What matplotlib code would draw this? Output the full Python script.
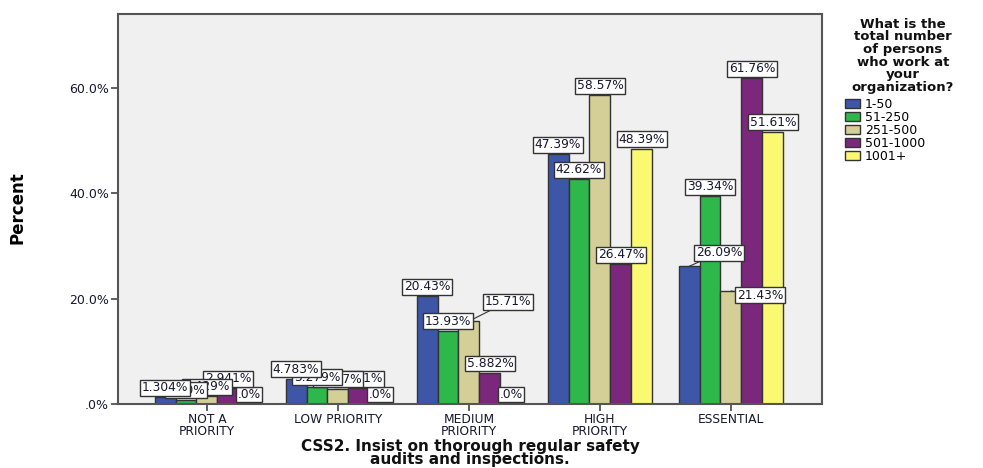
import matplotlib
matplotlib.use('Agg')
import matplotlib.pyplot as plt
from matplotlib.patches import Patch

# Data
categories = ['NOT A\nPRIORITY', 'LOW PRIORITY', 'MEDIUM\nPRIORITY', 'HIGH\nPRIORITY', 'ESSENTIAL']
groups = ['1-50', '51-250', '251-500', '501-1000', '1001+']
pct_1_50 = [1.304, 4.783, 20.43, 47.39, 26.09]
pct_51_250 = [0.820, 3.279, 13.93, 42.62, 39.34]
pct_251_500 = [1.429, 2.857, 15.71, 58.57, 21.43]
pct_501_1000 = [2.941, 2.941, 5.882, 26.47, 61.76]
pct_1001_plus = [0.0, 0.0, 0.0, 48.39, 51.61]
label_text = [
    ['1.304%', '4.783%', '20.43%', '47.39%', '26.09%'],
    ['.820%', '3.279%', '13.93%', '42.62%', '39.34%'],
    ['1.429%', '2.857%', '15.71%', '58.57%', '21.43%'],
    ['2.941%', '2.941%', '5.882%', '26.47%', '61.76%'],
    ['.0%', '.0%', '.0%', '48.39%', '51.61%'],
]
yticks = [0, 20, 40, 60]
ytick_labels = ['.0%', '20.0%', '40.0%', '60.0%']

series = [pct_1_50, pct_51_250, pct_251_500, pct_501_1000, pct_1001_plus]
colors = ['#3D56A8', '#2EB84B', '#D4CF97', '#7B287C', '#FBF872']

# labels SPSS pushed aside to avoid collisions (series, category) -> pixel nudge
nudges = {(2, 2): (39, 10), (0, 4): (30, 4), (2, 4): (29, -14)}

txt_col = '#161630'

fig = plt.figure(figsize=(9.83, 4.68), dpi=100)
ax = fig.add_axes([118 / 983, 64 / 468, 704 / 983, 390 / 468])
ax.set_facecolor('#F0F0F0')

width = 0.16
for j, vals in enumerate(series):
    xs = [i + (j - 2) * width for i in range(len(categories))]
    ax.bar(xs, vals, width=width, color=colors[j], edgecolor='#333333',
           linewidth=1.0, zorder=2)
    for i, v in enumerate(vals):
        dx, dy = nudges.get((j, i), (0, 0))
        arrow = None
        if (j, i) in nudges:
            arrow = dict(arrowstyle='-', color='#333333', lw=0.8,
                         shrinkA=0, shrinkB=0)
        ax.annotate(label_text[j][i], xy=(xs[i], v),
                    xytext=(dx, 3 + dy), textcoords='offset pixels',
                    ha='center', va='bottom', fontsize=8.8, color=txt_col,
                    bbox=dict(boxstyle='square,pad=0.12', fc='white',
                              ec='#333333', lw=1.0),
                    arrowprops=arrow, zorder=10 - j, annotation_clip=False)

ax.set_xlim(-0.679, 4.695)
ax.set_ylim(0, 73.94)
ax.set_xticks(range(len(categories)))
ax.set_xticklabels(categories, fontsize=8.8, color=txt_col, linespacing=0.85)
ax.set_yticks(yticks)
ax.set_yticklabels(ytick_labels, fontsize=9, color=txt_col)
ax.tick_params(axis='both', direction='out', length=5, width=1.2,
               color='#444444', pad=1.5)
for s in ax.spines.values():
    s.set_color('#555555')
    s.set_linewidth(1.5)

fig.text(18 / 983, 1 - 208 / 468, 'Percent', rotation=90, ha='center',
         va='center', fontsize=12, fontweight='bold',
         family=['Liberation Sans Narrow', 'DejaVu Sans'])
fig.text(470 / 983, 1 - 453 / 468,
         'CSS2. Insist on thorough regular safety\naudits and inspections.',
         ha='center', va='center', fontsize=11, fontweight='bold',
         color='#111111', linespacing=0.85)

# legend
fig.text(903 / 983, 1 - 18 / 468,
         'What is the\ntotal number\nof persons\nwho work at\nyour\norganization?',
         ha='center', va='top', fontsize=9.5, fontweight='bold',
         color='#111111', linespacing=0.95)
handles = [Patch(facecolor=c, edgecolor='#333333', linewidth=1.0) for c in colors]
fig.legend(handles, groups, loc='upper left',
           bbox_to_anchor=(845 / 983, 1 - 98 / 468), frameon=False,
           fontsize=9, handlelength=1.2, handleheight=0.8, handletextpad=0.4,
           labelspacing=0.0, borderpad=0, borderaxespad=0)

fig.savefig('out.png', dpi=100, facecolor='white')
